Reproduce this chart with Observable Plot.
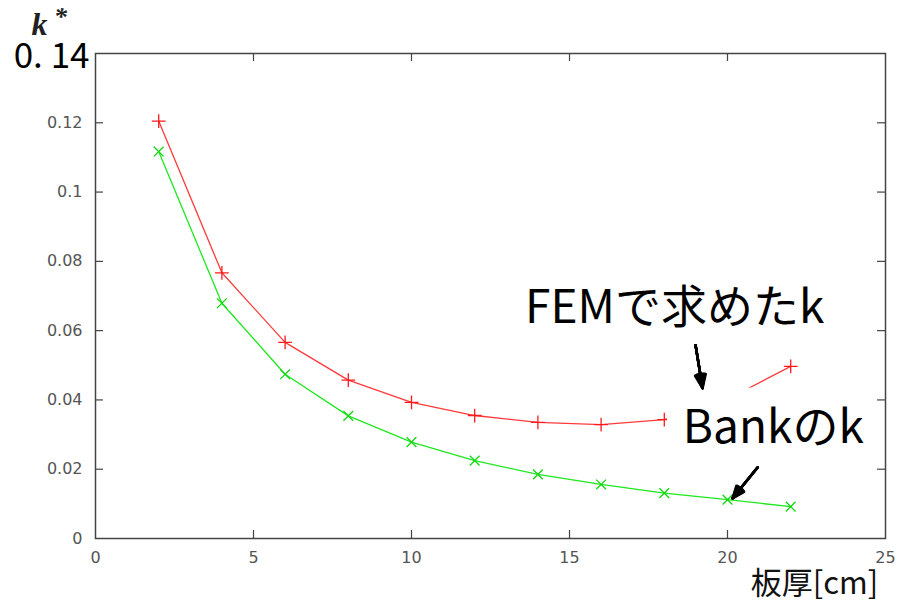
<!DOCTYPE html>
<html><head><meta charset="utf-8">
<script src="https://cdn.jsdelivr.net/npm/d3@7"></script>
<script src="https://cdn.jsdelivr.net/npm/@observablehq/plot@0.6"></script>
<style>body{margin:0;background:#fff}</style>
</head><body><div id="chart"></div>
<script>
const thickness = [2,4,6,8,10,12,14,16,18,20,22];
const femK  = [0.1205,0.0767,0.0566,0.0457,0.0393,0.0355,0.0335,0.0329,0.0343,0.0402,0.0497];
const bankK = [0.1117,0.0679,0.0474,0.0354,0.0278,0.0225,0.0185,0.0156,0.0131,0.0112,0.0092];
const xTicks = [0,5,10,15,20,25];
const yTicks = [0,0.02,0.04,0.06,0.08,0.1,0.12];
const yTopLabel = "0. 14";
const xLabel = "板厚[cm]";
const yLabel = "k";
const yLabelSup = "*";
const noteTexts = ["FEMで求めたk", "Bankのk"];
const noteX = [18.33, 21.45];
const noteY = [0.0665, 0.0318];
const arrowX1 = [18.99, 20.95], arrowY1 = [0.0558, 0.0205];
const arrowX2 = [19.21, 20.16], arrowY2 = [0.0434, 0.0116];
const maskBox = [{x1: 18.1, x2: 24.5, y1: 0.0250, y2: 0.0434}];

const fem = thickness.map((t, i) => ({t, k: femK[i]}));
const bank = thickness.map((t, i) => ({t, k: bankK[i]}));
const notes = noteTexts.map((s, i) => ({s, x: noteX[i], y: noteY[i]}));
const arrows = arrowX1.map((x1, i) => ({x1, y1: arrowY1[i], x2: arrowX2[i], y2: arrowY2[i]}));

const W = 899, H = 605, mL = 95, mR = 14, mT = 53, mB = 67;
const pw = W - mL - mR, ph = H - mT - mB, tl = 8;
const jp = "'Noto Sans CJK JP', 'Noto Sans', sans-serif";
const serif = "'Liberation Serif', 'DejaVu Serif', serif";

const headMarks = [44, 36, 28, 20, 12, 4].map(a =>
  Plot.arrow(arrows, {x1: "x1", y1: "y1", x2: "x2", y2: "y2", stroke: "#000",
    strokeWidth: 2.5, headAngle: a, headLength: 19}));

const chart = Plot.plot({
  width: W, height: H,
  marginLeft: mL, marginRight: mR, marginTop: mT, marginBottom: mB,
  style: {fontFamily: "'DejaVu Sans', sans-serif", fontSize: "16px", color: "#555", background: "#fff"},
  x: {domain: [0, 25], ticks: xTicks, tickSize: 0, tickPadding: 13, tickFormat: d => String(d), label: null},
  y: {domain: [0, 0.14], ticks: yTicks, tickSize: 0, tickPadding: 13, tickFormat: d => String(d), label: null},
  marks: [
    Plot.ruleY(yTicks.slice(1), {stroke: "#444", strokeWidth: 1.2, insetRight: pw - tl}),
    Plot.ruleY(yTicks.slice(1), {stroke: "#444", strokeWidth: 1.2, insetLeft: pw - tl}),
    Plot.ruleX(xTicks.slice(1, -1), {stroke: "#444", strokeWidth: 1.2, insetTop: ph - tl}),
    Plot.ruleX(xTicks.slice(1, -1), {stroke: "#444", strokeWidth: 1.2, insetBottom: ph - tl}),
    Plot.line(fem, {x: "t", y: "k", stroke: "#ff3a3a", strokeWidth: 1.3}),
    Plot.line(bank, {x: "t", y: "k", stroke: "#1ee81e", strokeWidth: 1.3}),
    Plot.dot(fem, {x: "t", y: "k", symbol: "plus", r: 4.5, stroke: "#ff1a1a", strokeWidth: 1.3}),
    Plot.dot(bank, {x: "t", y: "k", symbol: "times", r: 4.5, stroke: "#10d810", strokeWidth: 1.3}),
    Plot.rect(maskBox, {x1: "x1", x2: "x2", y1: "y1", y2: "y2", fill: "#fff"}),
    Plot.frame({stroke: "#444", strokeWidth: 1.5}),
    ...headMarks,
    Plot.arrow(arrows, {x1: "x1", y1: "y1", x2: "x2", y2: "y2", stroke: "#000", strokeWidth: 1.5, headLength: 0}),
    Plot.text(notes, {x: "x", y: "y", text: "s", fontSize: 46, fontFamily: jp, fill: "#000", textAnchor: "middle", lineAnchor: "middle"}),
    Plot.text([yTopLabel], {frameAnchor: "top-left", text: d => d, dx: -6, dy: 3, textAnchor: "end", lineAnchor: "middle", fontSize: 35, fontFamily: jp, fill: "#000"}),
    Plot.text([yLabel], {frameAnchor: "top-left", text: d => d, dx: -56, dy: -29, textAnchor: "middle", lineAnchor: "middle", fontSize: 32, fontFamily: serif, fontStyle: "italic", fontWeight: "bold", fill: "#222"}),
    Plot.text([yLabelSup], {frameAnchor: "top-left", text: d => d, dx: -35, dy: -37, textAnchor: "middle", lineAnchor: "middle", fontSize: 26, fontFamily: serif, fontStyle: "italic", fontWeight: "bold", fill: "#222"}),
    Plot.text([xLabel], {frameAnchor: "bottom-right", text: d => d, dx: -71, dy: 46, textAnchor: "middle", lineAnchor: "middle", fontSize: 31, fontFamily: jp, fill: "#111"})
  ]
});
document.getElementById("chart").appendChild(chart);
</script></body></html>
